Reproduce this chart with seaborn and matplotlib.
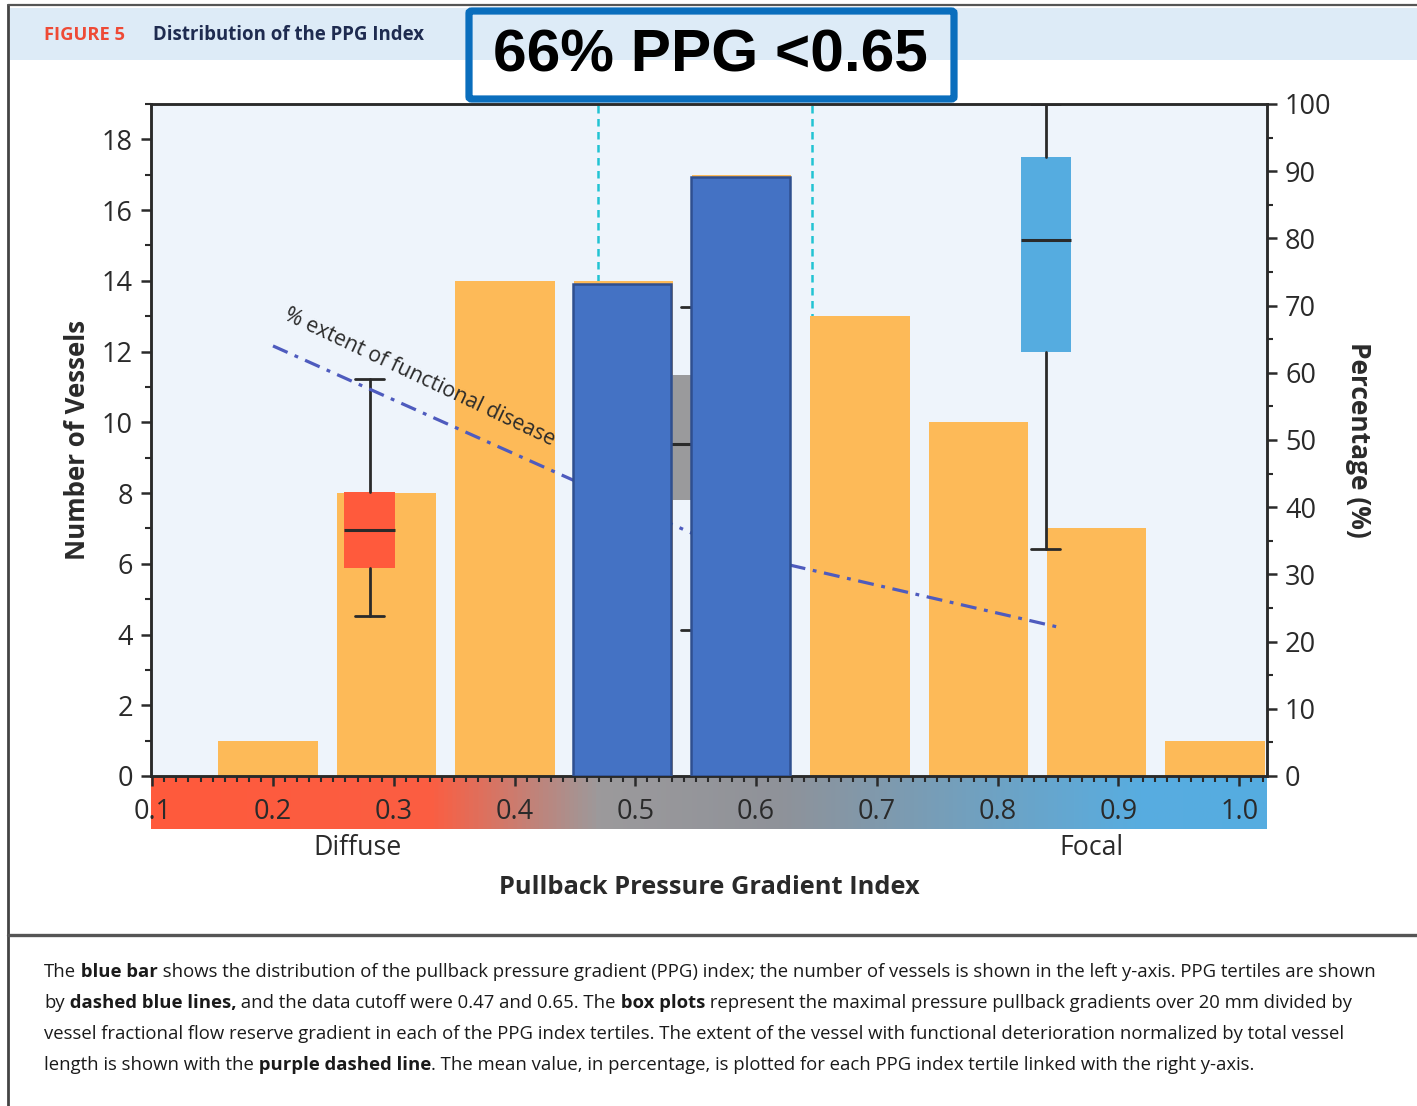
import numpy as np
import matplotlib
matplotlib.use("Agg")
import matplotlib.pyplot as plt
import seaborn as sns
from matplotlib.colors import LinearSegmentedColormap
from matplotlib.patches import Rectangle, FancyBboxPatch
from matplotlib.lines import Line2D
from matplotlib.ticker import MultipleLocator, FormatStrFormatter
from matplotlib.text import Annotation

# ---------------- data ----------------
bin_centers = [0.196, 0.294, 0.392, 0.490, 0.588, 0.686, 0.784, 0.882, 0.980]
vessel_counts = [1, 8, 14, 14, 17, 13, 10, 7, 1]
blue_centers = [0.489, 0.587]
blue_counts = [13.9, 16.95]
tertile_cutoffs = [0.469, 0.646]

box_positions = [0.28, 0.55, 0.84]
box_whislo = [23.8, 21.7, 33.8]
box_q1 = [31.0, 41.1, 63.1]
box_med = [36.6, 49.4, 79.8]
box_q3 = [42.3, 59.7, 92.1]
box_whishi = [59.1, 69.8, 100.0]
box_colors = ["#FF5A3C", "#9A9A9C", "#55ACE0"]

extent_x = [0.20, 0.582, 0.849]
extent_pct = [64.0, 33.3, 22.2]

x_ticks = [0.1, 0.2, 0.3, 0.4, 0.5, 0.6, 0.7, 0.8, 0.9, 1.0]

# ---------------- style ----------------
sns.set_style("ticks")
plt.rcParams['font.family'] = ['Open Sans', 'DejaVu Sans']
DARK = "#2a2a2a"
ORANGE = "#FDBA58"
BLUE = "#4472C4"
BLUE_EDGE = "#2F4F8F"

W, H = 1417, 1106
fig = plt.figure(figsize=(W / 100, H / 100), dpi=100)
fig.patch.set_facecolor("white")


def fx(px):
    return px / W


def fy(py):
    return 1 - py / H


# header band and frame
fig.add_artist(Rectangle((fx(10), fy(60)), 1 - fx(10), (60 - 8) / H,
                         transform=fig.transFigure, facecolor="#DDEBF7",
                         edgecolor="none", zorder=0))
fig.add_artist(Line2D([fx(8), fx(8)], [fy(5), 0], transform=fig.transFigure,
                      color="#444444", lw=2.0))
fig.add_artist(Line2D([fx(8), 1], [fy(5), fy(5)], transform=fig.transFigure,
                      color="#555555", lw=1.6))
fig.add_artist(Line2D([fx(8), 1], [fy(935), fy(935)], transform=fig.transFigure,
                      color="#555555", lw=2.4))

fig.text(fx(44), fy(35), "FIGURE 5", color="#EE4A36", fontsize=13.2,
         fontweight="bold", ha="left", va="center")
fig.text(fx(153), fy(35), "Distribution of the PPG Index", color="#1E2B50",
         fontsize=13.4, fontweight="bold", ha="left", va="center")

fig.add_artist(FancyBboxPatch((fx(469), fy(99)), fx(954) - fx(469), (99 - 11) / H,
                              boxstyle="round,pad=0,rounding_size=0.002",
                              transform=fig.transFigure, facecolor="none",
                              edgecolor="#0A6EBD", lw=5.2, zorder=5))
fig.text(fx(710), fy(56), "66% PPG <0.65", color="black", fontsize=43.5,
         fontweight="bold", ha="center", va="center",
         family=["Liberation Sans", "DejaVu Sans"], zorder=6)

# ---------------- axes ----------------
ax_rect = [fx(151), fy(776), fx(1267) - fx(151), (776 - 104) / H]
ax = fig.add_axes(ax_rect)
ax.set_zorder(1)
ax.patch.set_facecolor("#EEF4FB")

cax = fig.add_axes([fx(151), fy(829), fx(1267) - fx(151), (829 - 777) / H])
cax.set_zorder(0)

axp = ax.twinx()
axp.set_zorder(2)
axp.patch.set_visible(False)

axb = fig.add_axes(ax_rect, sharex=ax, sharey=ax)
axb.set_zorder(3)
axb.patch.set_visible(False)

XMIN, XMAX = 0.099, 1.023

# gradient strip under the x axis
stops = [(0.1, "#FF5A3C"), (0.33, "#FB5E42"), (0.47, "#9C9A9C"),
         (0.62, "#8F9299"), (0.92, "#58ADE0"), (1.023, "#55ACE0")]
grad_cmap = LinearSegmentedColormap.from_list(
    "ppg", [((x - XMIN) / (XMAX - XMIN), c) for x, c in
            [(XMIN, stops[0][1])] + stops[1:-1] + [(XMAX, stops[-1][1])]])
cax.imshow(np.linspace(0, 1, 800)[None, :], aspect="auto", cmap=grad_cmap,
           extent=[XMIN, XMAX, 0, 1])
cax.set_xlim(XMIN, XMAX)
cax.axis("off")

# tertile cutoffs
for c in tertile_cutoffs:
    ax.axvline(c, color="#22C3D3", lw=1.8, ls=(0, (3, 2.2)), zorder=0.8)

# orange histogram
sns.barplot(x=bin_centers, y=vessel_counts, native_scale=True, ax=ax,
            color=ORANGE, saturation=1, width=0.84, errorbar=None,
            edgecolor="none", linewidth=0, zorder=1)

# blue highlighted bars
sns.barplot(x=blue_centers, y=blue_counts, native_scale=True, ax=axb,
            color=BLUE, saturation=1, width=0.83, errorbar=None,
            edgecolor=BLUE_EDGE, linewidth=1.8)

# box plots (right axis)
stats = [dict(whislo=lo, q1=a, med=m, q3=b, whishi=hi, fliers=[])
         for lo, a, m, b, hi in zip(box_whislo, box_q1, box_med, box_q3, box_whishi)]
bp = axp.bxp(stats, positions=box_positions, widths=0.042, capwidths=0.024,
             patch_artist=True, showfliers=False, manage_ticks=False,
             boxprops=dict(linewidth=0),
             whiskerprops=dict(color=DARK, linewidth=2),
             capprops=dict(color=DARK, linewidth=2),
             medianprops=dict(color=DARK, linewidth=2.2))
for patch, col in zip(bp["boxes"], box_colors):
    patch.set_facecolor(col)
    patch.set_edgecolor("none")

# extent line
sns.lineplot(x=extent_x, y=extent_pct, ax=axp, color="#4E5BBE", linewidth=2.3,
             linestyle=(0, (5, 2.4, 1.2, 2.4)), sort=False, estimator=None)
axp.text(0.321, 59.3, "% extent of functional disease", rotation=-25.3,
         rotation_mode="anchor", ha="center", va="center", fontsize=15.3,
         color="#2a2a2a")

# ---------------- limits & ticks ----------------
ax.set_xlim(XMIN, XMAX)
ax.set_ylim(0, 19)
axp.set_ylim(0, 100)

ax.set_xticks(x_ticks)
ax.xaxis.set_major_formatter(FormatStrFormatter("%.1f"))
ax.xaxis.set_minor_locator(MultipleLocator(0.01))
ax.yaxis.set_major_locator(MultipleLocator(2))
ax.yaxis.set_minor_locator(MultipleLocator(1))
axp.yaxis.set_major_locator(MultipleLocator(10))
axp.yaxis.set_minor_locator(MultipleLocator(5))

for a in (ax, axp):
    a.tick_params(which="major", direction="out", length=7, width=1.8,
                  color=DARK, labelcolor=DARK, labelsize=19.5)
    a.tick_params(which="minor", direction="out", length=4, width=1.5, color=DARK)
ax.tick_params(axis="x", which="both", top=False, pad=9)
ax.tick_params(axis="y", which="both", right=False, pad=6)
axp.tick_params(axis="y", which="both", left=False, pad=6)

for a in (ax, axp):
    for s in a.spines.values():
        s.set_color(DARK)
        s.set_linewidth(1.8)
        s.set_visible(True)
axb.axis("off")

ax.set_ylabel("Number of Vessels", fontsize=18.6, fontweight="bold", color=DARK)
ax.yaxis.set_label_coords((78 - 151) / 1116, 0.5)
ax.yaxis.label.set(ha="center", va="center")
axp.set_ylabel("Percentage (%)", fontsize=19, fontweight="bold", color=DARK,
               rotation=-90)
axp.yaxis.set_label_coords((1358 - 151) / 1116, 0.5)
axp.yaxis.label.set(ha="center", va="center")
ax.set_xlabel("Pullback Pressure Gradient Index", fontsize=18.3,
              fontweight="bold", color=DARK)
ax.xaxis.set_label_coords(0.5, (776 - 888) / 672)
ax.xaxis.label.set(ha="center", va="center")

ax.text((357 - 151) / 1116, (776 - 848) / 672, "Diffuse", transform=ax.transAxes,
        ha="center", va="center", fontsize=19.2, color=DARK)
ax.text((1091 - 151) / 1116, (776 - 848) / 672, "Focal", transform=ax.transAxes,
        ha="center", va="center", fontsize=19.2, color=DARK)

# ---------------- caption ----------------
caption_lines = [
    [("The", False), (" blue bar", True),
     (" shows the distribution of the pullback pressure gradient (PPG) index; the number of vessels is shown in the left y-axis. PPG tertiles are shown", False)],
    [("by", False), (" dashed blue lines,", True),
     (" and the data cutoff were 0.47 and 0.65. The", False), (" box plots", True),
     (" represent the maximal pressure pullback gradients over 20 mm divided by", False)],
    [("vessel fractional flow reserve gradient in each of the PPG index tertiles. The extent of the vessel with functional deterioration normalized by total vessel", False)],
    [("length is shown with the", False), (" purple dashed line", True),
     (". The mean value, in percentage, is plotted for each PPG index tertile linked with the right y-axis.", False)],
]
cap_y = [971, 1002, 1033, 1064]
CAP_SIZE = 13.3
for parts, yy in zip(caption_lines, cap_y):
    prev = None
    for txt, bold in parts:
        kw = dict(fontsize=CAP_SIZE, fontweight="bold" if bold else "normal",
                  color="#1a1a1a")
        if prev is None:
            prev = fig.text(fx(44), fy(yy + 10), txt, ha="left", va="bottom", **kw)
        else:
            ann = Annotation(txt, xy=(1, 0), xycoords=prev, ha="left",
                             va="bottom", **kw)
            fig.add_artist(ann)
            prev = ann

fig.savefig("out.png", dpi=100)
